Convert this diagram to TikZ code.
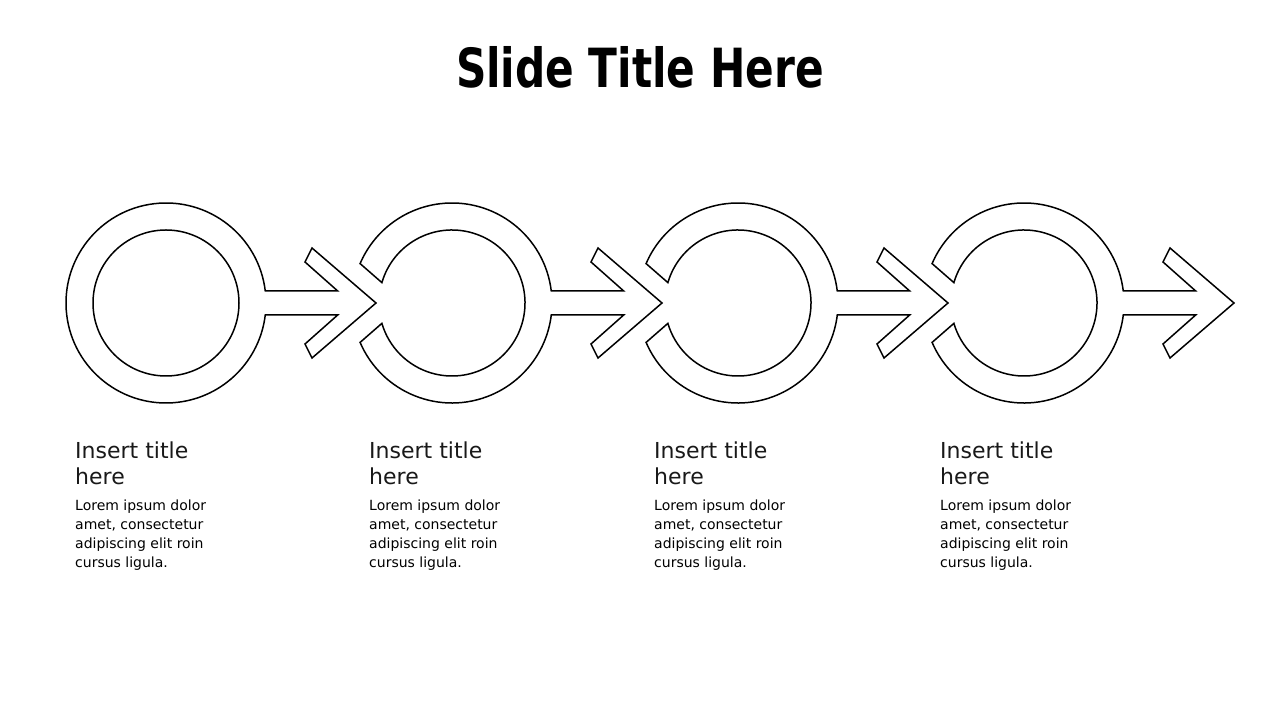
\documentclass[tikz,border=0pt]{standalone}
\usepackage{fontspec}
\usepackage{graphicx}
\setmainfont{DejaVu Sans}
\newfontfamily\titlefont{DejaVu Sans Condensed}
\tikzset{
  ring/.style={draw=black, fill=white, line width=1.5pt, line join=miter},
  steptitle/.style={anchor=base west, inner sep=0pt, align=left, font=\fontsize{22}{25.5}\selectfont, text=black!90},
  stepbody/.style={anchor=base west, inner sep=0pt, align=left, font=\fontsize{14}{19}\selectfont, text=black},
}
\begin{document}
\begin{tikzpicture}[x=1pt,y=1pt]
\useasboundingbox (0,0) rectangle (1280,720);
\fill[white] (0,0) rectangle (1280,720);
\node[inner sep=0pt, anchor=base] (title) at (640,632.5) {\scalebox{0.87}[1]{\titlefont\bfseries\fontsize{54}{60}\selectfont Slide Title Here}};
% first shape: full ring with shaft
\begin{scope}[shift={(166,417)}]
\draw[ring] (6.89:100) arc[start angle=6.89, end angle=353.11, radius=100]
  -- (171.7,-12) -- (139,-41) -- (146,-55) -- (210,0) -- (146,55) -- (139,41) -- (171.7,12) -- cycle;
\draw[ring] (0,0) circle[radius=73];
\end{scope}
% notched shapes
\foreach \cx in {452,738,1024}{
\begin{scope}[shift={(\cx,417)}]
\draw[ring] (6.89:100) arc[start angle=6.89, end angle=156.8, radius=100]
  -- (163.8:73) arc[start angle=163.8, end angle=-163.8, radius=73]
  -- (-156.8:100) arc[start angle=-156.8, end angle=-6.89, radius=100]
  -- (171.7,-12) -- (139,-41) -- (146,-55) -- (210,0) -- (146,55) -- (139,41) -- (171.7,12) -- cycle;
\end{scope}
}
% texts (base anchor = baseline of last line)
\node[steptitle] (t1) at (75,235.5) {Insert title\\here};
\node[steptitle] (t2) at (369,235.5) {Insert title\\here};
\node[steptitle] (t3) at (654,235.5) {Insert title\\here};
\node[steptitle] (t4) at (940,235.5) {Insert title\\here};
\node[stepbody] (b1) at (75,152) {Lorem ipsum dolor\\amet, consectetur\\adipiscing elit roin\\cursus ligula.};
\node[stepbody] (b2) at (369,152) {Lorem ipsum dolor\\amet, consectetur\\adipiscing elit roin\\cursus ligula.};
\node[stepbody] (b3) at (654,152) {Lorem ipsum dolor\\amet, consectetur\\adipiscing elit roin\\cursus ligula.};
\node[stepbody] (b4) at (940,152) {Lorem ipsum dolor\\amet, consectetur\\adipiscing elit roin\\cursus ligula.};
\end{tikzpicture}
\end{document}
